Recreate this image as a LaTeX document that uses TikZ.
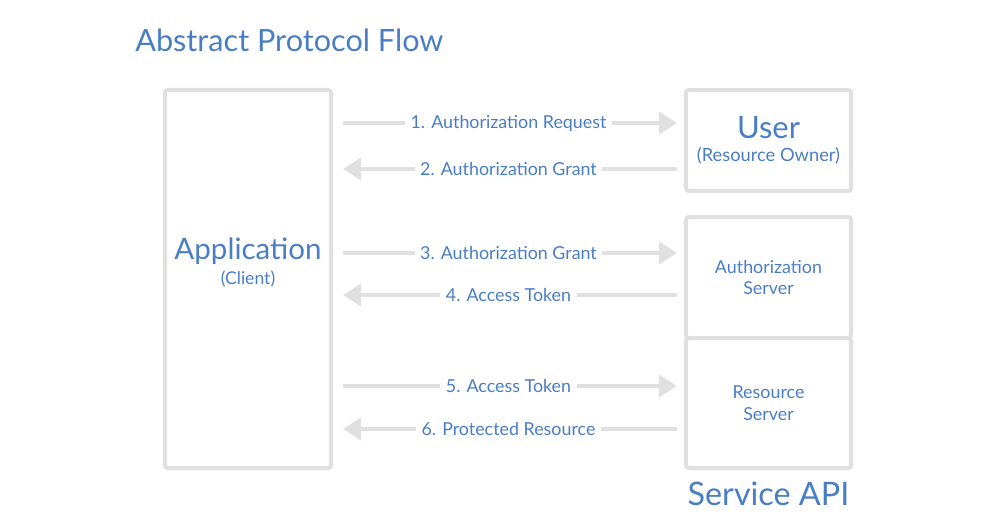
\documentclass[tikz,border=0pt]{standalone}
\usepackage{fontspec}
\setmainfont{Lato}
\usepackage{xcolor}
\usetikzlibrary{positioning,arrows.meta,calc}

\definecolor{oblue}{RGB}{74,126,196}
\definecolor{ogray}{RGB}{224,224,224}

\begin{document}
\begin{tikzpicture}[
  x=0.025cm, y=-0.025cm,
  box/.style={draw=ogray, line width=2.8pt, rounded corners=2pt, align=center, text=oblue, inner sep=0pt},
  lbl/.style={fill=white, text=oblue, font=\fontsize{12.7}{14}\selectfont, inner sep=4pt},
  big/.style={text=oblue, font=\fontsize{21}{24}\selectfont, inner sep=0pt},
  arr/.style={draw=ogray, line width=2.8pt, -{Triangle[length=4.5mm,width=5.5mm]}, shorten <=0.25cm, shorten >=0.175cm},
  arrl/.style={draw=ogray, line width=2.8pt, {Triangle[length=4.5mm,width=5.5mm]}-, shorten <=0.25cm, shorten >=0.175cm},
]
\useasboundingbox (0,0) rectangle (984,531);

\node[big, anchor=west, font=\fontsize{21.8}{24}\selectfont] (title) at (135,40) {Abstract Protocol Flow};

% boxes
\node[box, minimum width=4.15cm, minimum height=9.45cm] (app) at (248,279) {};
\node[big, align=center] (appname) at ([yshift=0.42cm]app.center) {Application\\[-6pt]{\fontsize{12.5}{14}\selectfont (Client)}};
\node[box, minimum width=4.125cm, minimum height=2.525cm] (user) at (768.5,140.5) {{\fontsize{22}{24}\selectfont User}\\[4pt]{\fontsize{13}{14}\selectfont (Resource Owner)}};
\node[box, minimum width=4.125cm, minimum height=3.025cm, font=\fontsize{12.7}{15.6}\selectfont] (auth) at (768.5,277.5) {Authorization\\Server};
\node[box, minimum width=4.125cm, minimum height=3.25cm, font=\fontsize{12.7}{15.6}\selectfont, below=-2.8pt of auth] (srv) {Resource\\Server};
\node[big, below=0.28cm of srv, font=\fontsize{23}{24}\selectfont] (api) {Service API};

% rows
\coordinate (r1) at (0,123);
\coordinate (r2) at (0,169);
\coordinate (r3) at (0,253);
\coordinate (r4) at (0,295);
\coordinate (r5) at (0,386);
\coordinate (r6) at (0,429);

\draw[arr] (app.east |- r1) -- node[lbl]{1. Authorization Request} (user.west |- r1);
\draw[arrl] (app.east |- r2) -- node[lbl]{2. Authorization Grant} (user.west |- r2);
\draw[arr] (app.east |- r3) -- node[lbl]{3. Authorization Grant} (auth.west |- r3);
\draw[arrl] (app.east |- r4) -- node[lbl]{4. Access Token} (auth.west |- r4);
\draw[arr] (app.east |- r5) -- node[lbl]{5. Access Token} (srv.west |- r5);
\draw[arrl] (app.east |- r6) -- node[lbl]{6. Protected Resource} (srv.west |- r6);
\end{tikzpicture}
\end{document}
